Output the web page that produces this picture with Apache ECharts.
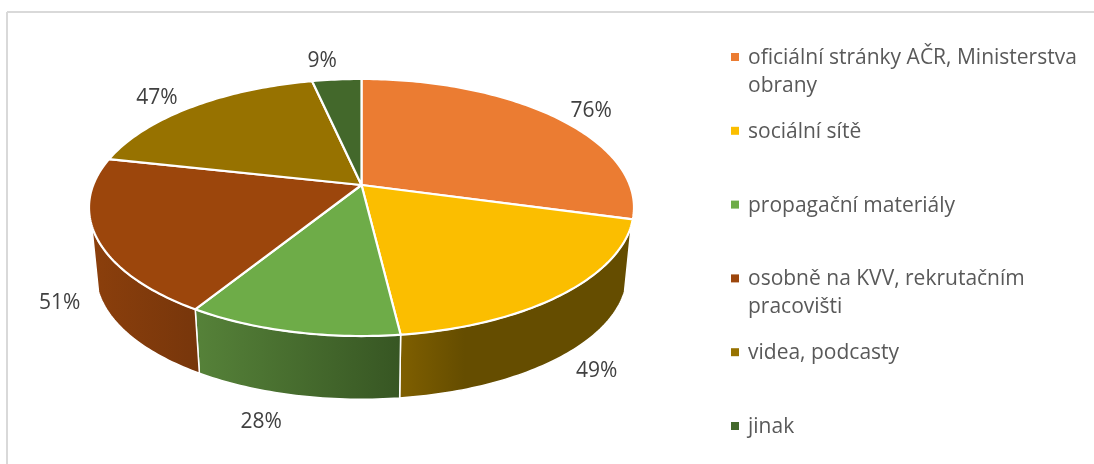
<!DOCTYPE html>
<html><head><meta charset="utf-8">
<style>html,body{margin:0;padding:0;background:#fff}#c{width:1094px;height:464px}</style>
<script src="https://cdn.jsdelivr.net/npm/echarts@6/dist/echarts.min.js"></script>
</head><body><div id="c"></div>
<script>
const categories = ['oficiální stránky AČR, Ministerstva\nobrany','sociální sítě','propagační materiály','osobně na KVV, rekrutačním\npracovišti','videa, podcasty','jinak'];
const percentValues = [76,49,28,51,47,9];
const sliceColors = ['#EB7C32','#FBBE00','#6EAC48','#9C460C','#977200','#43682B'];
const wallLeftColors = ['#8C4A1D','#7F5F00','#568239','#8B3F0C','#5C4500','#28401A'];
const wallRightColors = ['#8C4A1D','#654D00','#375623','#77360B','#5C4500','#28401A'];
const labelOffsets = [[37,-5.6],[33,77.5],[-30.5,90],[-36.5,66],[-35.7,-8.6],[-14.6,-18.5]];

// perspective disc projection
const CX=361.5, CY=185, A=268.3, C=124.6, TILT=0.175, SHRINK=0.975, DEPTH=67;
const VIS_FROM=108, VIS_TO=252;
const total = percentValues.reduce((a,b)=>a+b,0);
const starts=[]; let acc=0;
percentValues.forEach(v=>{starts.push(acc); acc+=v/total*360;});
function topPt(deg){const t=deg*Math.PI/180,u=Math.sin(t),v=Math.cos(t),k=1+TILT*v;return [CX+A*u/k,CY-C*v/k];}
function botPt(deg){const t=deg*Math.PI/180,u=Math.sin(t),v=Math.cos(t),k=1+TILT*v;return [CX+SHRINK*A*u/k,CY+DEPTH-SHRINK*C*v/k];}
function arc(fn,a,b){const n=Math.max(2,Math.ceil(Math.abs(b-a)));const p=[];for(let i=0;i<=n;i++)p.push(fn(a+(b-a)*i/n));return p;}

const idx = percentValues.map((v,i)=>[i,v]);
const FONT='"Open Sans", sans-serif';

const chart = echarts.init(document.getElementById('c'),null,{renderer:'canvas'});
chart.setOption({
  animation:false,
  backgroundColor:'#fff',
  graphic:[
    {type:'line',silent:true,shape:{x1:7,y1:12,x2:1094,y2:12},style:{stroke:'#D9D9D9',lineWidth:2}},
    {type:'line',silent:true,shape:{x1:7,y1:12,x2:7,y2:464},style:{stroke:'#D9D9D9',lineWidth:2}}
  ],
  series:[
    {type:'custom',coordinateSystem:'none',silent:true,z:2,data:idx,
     renderItem(p,api){
       const i=api.value(0),a=starts[i],b=a+api.value(1)/total*360;
       const from=Math.max(a,VIS_FROM),to=Math.min(b,VIS_TO);
       if(to<=from) return {type:'group',children:[]};
       const tp=arc(topPt,from,to),bp=arc(botPt,from,to).reverse();
       const xs=tp.concat(bp).map(q=>q[0]);
       const x0=Math.min(...xs),x1=Math.max(...xs);
       const grad=new echarts.graphic.LinearGradient(i===1?x1:x0,0,i===1?x0:x1,0,
         i===1?[{offset:0,color:wallRightColors[i]},{offset:0.72,color:wallRightColors[i]},{offset:1,color:wallLeftColors[i]}]
              :[{offset:0,color:wallLeftColors[i]},{offset:1,color:wallRightColors[i]}],true);
       return {type:'polygon',shape:{points:tp.concat(bp)},style:{fill:grad,stroke:'#fff',lineWidth:1.5,lineJoin:'round'}};
     }},
    {type:'custom',coordinateSystem:'none',silent:true,z:3,data:idx,
     renderItem(p,api){
       const i=api.value(0),a=starts[i],b=a+api.value(1)/total*360;
       const pts=[[CX,CY]].concat(arc(topPt,a,b));
       return {type:'polygon',shape:{points:pts},style:{fill:sliceColors[i],stroke:'#fff',lineWidth:2.2,lineJoin:'round'}};
     }},
    {type:'custom',coordinateSystem:'none',silent:true,z:4,data:idx,
     renderItem(p,api){
       const i=api.value(0),a=starts[i],b=a+api.value(1)/total*360;
       const m=topPt((a+b)/2),off=labelOffsets[i];
       const rowY=57+i*73.8;
       return {type:'group',children:[
         {type:'text',style:{x:m[0]+off[0],y:m[1]+off[1],text:api.value(1)+'%',fill:'#404040',font:'21px '+FONT,align:'center',verticalAlign:'middle'}},
         {type:'rect',shape:{x:731,y:rowY-4,width:8,height:8},style:{fill:sliceColors[i]}},
         {type:'text',style:{x:748,y:rowY-13,text:categories[i],fill:'#595959',font:'21px '+FONT,lineHeight:28,align:'left',verticalAlign:'top'}}
       ]};
     }}
  ]
});
</script></body></html>
